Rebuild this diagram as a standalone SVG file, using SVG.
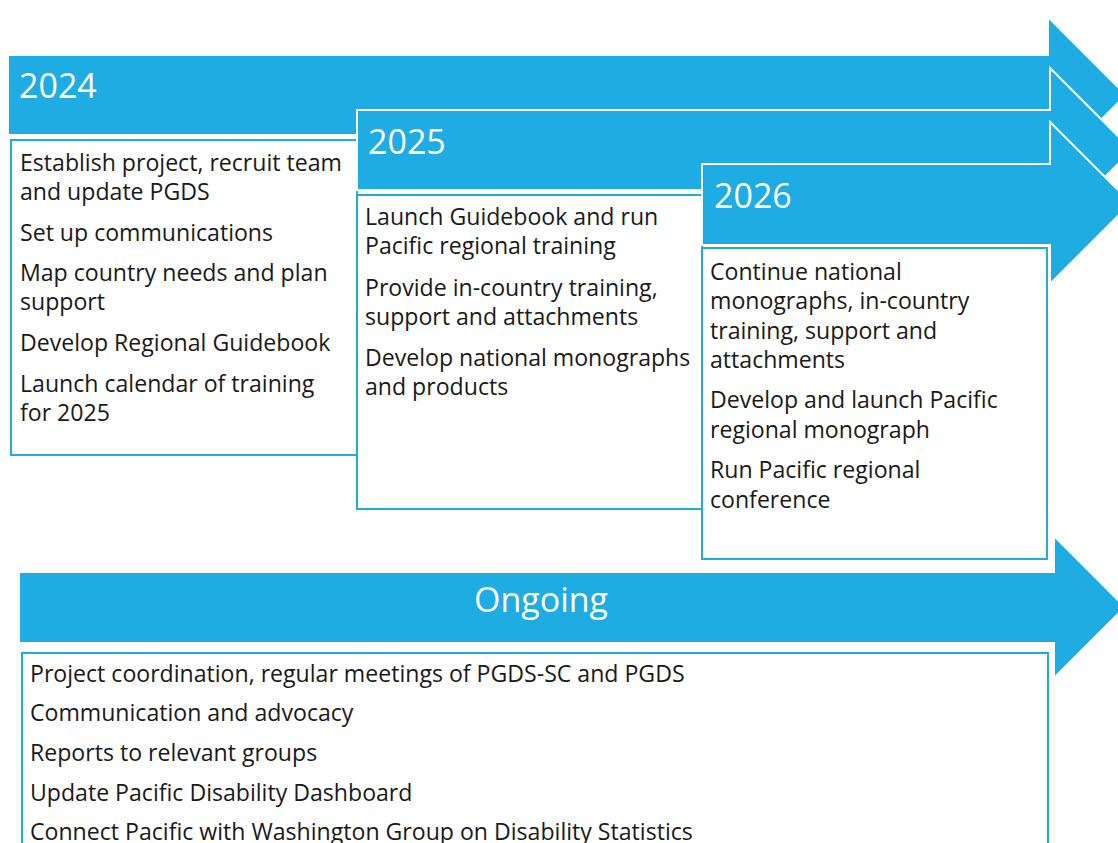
<svg xmlns="http://www.w3.org/2000/svg" width="1118" height="843" viewBox="0 0 1118 843">
<style>
.arrow{fill:#1EACE2;stroke:#FFFFFF;stroke-width:2;stroke-linejoin:miter}
.box{fill:#FFFFFF;stroke:#1EACE2;stroke-width:2}
.hdr{font-family:"Open Sans","Noto Sans",sans-serif;font-size:34px;fill:#FFFFFF}
.txt{font-family:"Open Sans","Noto Sans",sans-serif;font-size:23.1px;fill:#1A1A1A}
.otxt{font-family:"Open Sans","Noto Sans",sans-serif;font-size:23.1px;fill:#1A1A1A}
</style>
<rect width="1118" height="843" fill="#FFFFFF"/>
<g id="y2024">
<polygon class="arrow" points="8,55 1048,55 1048,17 1126,95 1048,173 1048,135 8,135"/>
<text class="hdr" x="19" y="98">2024</text>
<rect class="box" x="11" y="140" width="346" height="315"/>
<text class="txt" x="20" y="171">Establish project, recruit team</text>
<text class="txt" x="20" y="200">and update PGDS</text>
<text class="txt" x="20" y="241">Set up communications</text>
<text class="txt" x="20" y="281">Map country needs and plan</text>
<text class="txt" x="20" y="310">support</text>
<text class="txt" x="20" y="351">Develop Regional Guidebook</text>
<text class="txt" x="20" y="392">Launch calendar of training</text>
<text class="txt" x="20" y="421">for 2025</text>
</g>
<g id="y2025">
<polygon class="arrow" points="357,110 1050,110 1050,68 1132,150 1050,232 1050,190 357,190"/>
<text class="hdr" x="368" y="154">2025</text>
<rect class="box" x="357" y="195" width="345" height="314"/>
<text class="txt" x="365" y="225">Launch Guidebook and run</text>
<text class="txt" x="365" y="254">Pacific regional training</text>
<text class="txt" x="365" y="296">Provide in-country training,</text>
<text class="txt" x="365" y="325">support and attachments</text>
<text class="txt" x="365" y="366">Develop national monographs</text>
<text class="txt" x="365" y="395">and products</text>
</g>
<g id="y2026">
<polygon class="arrow" points="702,164 1050,164 1050,122 1131,203 1050,284 1050,245 702,245"/>
<text class="hdr" x="714" y="208">2026</text>
<rect class="box" x="702" y="248" width="345" height="311"/>
<text class="txt" x="710" y="280">Continue national</text>
<text class="txt" x="710" y="309">monographs, in-country</text>
<text class="txt" x="710" y="339">training, support and</text>
<text class="txt" x="710" y="368">attachments</text>
<text class="txt" x="710" y="408">Develop and launch Pacific</text>
<text class="txt" x="710" y="438">regional monograph</text>
<text class="txt" x="710" y="478">Run Pacific regional</text>
<text class="txt" x="710" y="508">conference</text>
</g>
<g id="ongoing">
<polygon class="arrow" points="19,572 1054,572 1054,536 1125,607 1054,678 1054,643 19,643"/>
<text class="hdr" x="541" y="612" text-anchor="middle">Ongoing</text>
<rect class="box" x="22" y="653" width="1026" height="200"/>
<text class="otxt" x="30" y="682">Project coordination, regular meetings of PGDS-SC and PGDS</text>
<text class="otxt" x="30" y="721">Communication and advocacy</text>
<text class="otxt" x="30" y="761">Reports to relevant groups</text>
<text class="otxt" x="30" y="801">Update Pacific Disability Dashboard</text>
<text class="otxt" x="30" y="840">Connect Pacific with Washington Group on Disability Statistics</text>
</g>
<g id="connectors"></g>
</svg>
